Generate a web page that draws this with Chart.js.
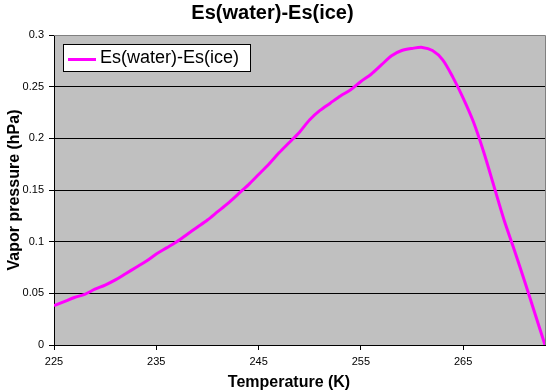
<!DOCTYPE html>
<html>
<head>
<meta charset="utf-8">
<script src="https://cdn.jsdelivr.net/npm/chart.js@4/dist/chart.umd.min.js"></script>
<style>
  html, body { margin: 0; padding: 0; background: #fff; }
  canvas { display: block; }
</style>
</head>
<body>
<canvas id="chart" width="549" height="391"></canvas>
<script>
// Temperature (K) and Es(water)-Es(ice) (hPa)
const temperatures = [
  225, 226, 227, 228, 229, 230, 231, 232, 233, 234,
  235, 236, 237, 238, 239, 240, 241, 242, 243, 244,
  245, 246, 247, 248, 249, 250, 251, 252, 253, 254,
  255, 256, 257, 258, 259, 260, 261, 262, 263, 264,
  265, 266, 267, 268, 269, 270, 271, 272, 273
];
const esDiff = [
  0.038, 0.042, 0.046, 0.049, 0.054, 0.058, 0.063, 0.069, 0.075, 0.081,
  0.088, 0.094, 0.100, 0.107, 0.114, 0.121, 0.129, 0.137, 0.146, 0.155,
  0.165, 0.175, 0.186, 0.196, 0.206, 0.218, 0.227, 0.234, 0.241, 0.247,
  0.255, 0.262, 0.271, 0.280, 0.285, 0.287, 0.288, 0.285, 0.276, 0.259,
  0.239, 0.216, 0.187, 0.154, 0.121, 0.092, 0.062, 0.031, 0.000
];
const xTicks = [225, 235, 245, 255, 265];
const yTicks = [0, 0.05, 0.1, 0.15, 0.2, 0.25, 0.3];
const seriesName = 'Es(water)-Es(ice)';
const xTitle = 'Temperature (K)';

const FONT = 'Arial, "Liberation Sans", sans-serif';
const LINE_COLOR = '#FF00FF';

// gray plot area plus the gray top/right frame
const plotArea = {
  id: 'plotArea',
  beforeDraw(chart) {
    const { ctx, chartArea: a } = chart;
    ctx.save();
    ctx.fillStyle = '#C0C0C0';
    ctx.fillRect(a.left, a.top, a.right - a.left, a.bottom - a.top);
    ctx.restore();
  },
  afterDatasetsDraw(chart) {
    const { ctx, chartArea: a } = chart;
    ctx.save();
    ctx.strokeStyle = '#808080';
    ctx.lineWidth = 1;
    ctx.beginPath();
    ctx.moveTo(a.left, a.top + 0.5);
    ctx.lineTo(a.right + 0.5, a.top + 0.5);
    ctx.lineTo(a.right + 0.5, a.bottom);
    ctx.stroke();
    ctx.restore();
  }
};

// Excel style legend box inside the plot, and the x axis title
const boxLegend = {
  id: 'boxLegend',
  afterDraw(chart) {
    const { ctx } = chart;
    const ds = chart.data.datasets[0];
    const x = 63, y = 44, w = 187, h = 27;
    ctx.save();
    ctx.fillStyle = '#fff';
    ctx.fillRect(x, y, w, h);
    ctx.strokeStyle = '#000';
    ctx.lineWidth = 1;
    ctx.strokeRect(x + 0.5, y + 0.5, w, h);
    ctx.strokeStyle = ds.borderColor;
    ctx.lineWidth = 3;
    ctx.beginPath();
    ctx.moveTo(68, 59.5);
    ctx.lineTo(96, 59.5);
    ctx.stroke();
    ctx.fillStyle = '#000';
    ctx.font = '18px ' + FONT;
    ctx.textBaseline = 'middle';
    ctx.fillText(ds.label, 100, 58.5);

    ctx.font = 'bold 16px ' + FONT;
    ctx.textAlign = 'center';
    ctx.fillText(xTitle, 289, 383);
    ctx.restore();
  }
};

new Chart(document.getElementById('chart'), {
  type: 'line',
  data: {
    datasets: [{
      label: seriesName,
      data: temperatures.map((t, i) => ({ x: t, y: esDiff[i] })),
      borderColor: LINE_COLOR,
      borderWidth: 3,
      pointRadius: 0,
      tension: 0.3,
      fill: false
    }]
  },
  options: {
    responsive: false,
    animation: false,
    layout: { padding: { right: 4 } },
    plugins: {
      legend: { display: false },
      tooltip: { enabled: false },
      title: {
        display: true,
        text: 'Es(water)-Es(ice)',
        color: '#000',
        font: { family: FONT, size: 20, weight: 'bold', lineHeight: 1.2 },
        padding: { top: 1, bottom: 10 }
      }
    },
    scales: {
      x: {
        type: 'linear',
        min: 225,
        max: 273,
        afterBuildTicks: s => { s.ticks = xTicks.map(v => ({ value: v })); },
        afterFit: s => { s.height = 46; },
        border: { color: '#000', width: 1 },
        grid: { drawOnChartArea: false, drawTicks: true, tickLength: 5, tickColor: '#000' },
        ticks: {
          color: '#000',
          font: { family: FONT, size: 11 },
          padding: 5,
          maxRotation: 0,
          callback: v => String(v)
        }
      },
      y: {
        min: 0,
        max: 0.3,
        afterBuildTicks: s => { s.ticks = yTicks.map(v => ({ value: v })); },
        afterFit: s => { s.width = 54; },
        border: { color: '#000', width: 1 },
        grid: {
          color: c => (c.tick && c.tick.value === 0.3) ? '#808080' : '#000',
          lineWidth: 1,
          drawTicks: true,
          tickLength: 5,
          tickColor: '#000'
        },
        ticks: {
          color: '#000',
          font: { family: FONT, size: 11 },
          padding: 5,
          callback: v => String(+v.toFixed(2))
        },
        title: {
          display: true,
          text: 'Vapor pressure (hPa)',
          color: '#000',
          font: { family: FONT, size: 16, weight: 'bold', lineHeight: 1 },
          padding: { top: 6.5, bottom: 0 }
        }
      }
    }
  },
  plugins: [plotArea, boxLegend]
});
</script>
</body>
</html>
